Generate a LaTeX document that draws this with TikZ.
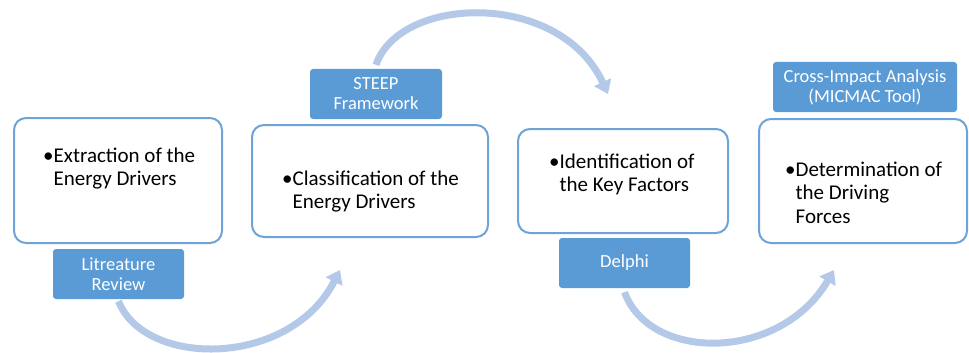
\documentclass[tikz,border=0pt]{standalone}
\usepackage{fontspec}
\setmainfont{Carlito}
\usetikzlibrary{arrows.meta}
\definecolor{lblue}{HTML}{5B9BD5}
\definecolor{bord}{HTML}{6FA3D8}
\definecolor{arc}{HTML}{B4C8E8}
\tikzset{
  stagebox/.style={draw=bord, line width=2pt, rounded corners=12pt, fill=white, inner sep=0pt},
  labelbox/.style={fill=lblue, rounded corners=3pt, text=white, inner sep=0pt, align=center,
     minimum height=50pt, font=\fontsize{18.5}{20}\selectfont},
  stagetext/.style={anchor=base west, inner sep=0pt, font=\fontsize{21}{23.5}\selectfont},
  flow/.style={draw=arc, line width=7pt, -{Triangle[width=18pt,length=13pt]}}
}
\newcommand{\stg}[2]{\begin{tabular}[t]{@{}l@{}l@{}}\textbullet&#1\\#2\end{tabular}}
\begin{document}
\begin{tikzpicture}[x=1pt,y=-1pt]
\useasboundingbox (0,0) rectangle (969,353);
% stage boxes
\node[stagebox, minimum width=208pt, minimum height=125pt] (b1) at (118,180.5) {};
\node[stagebox, minimum width=236pt, minimum height=112pt] (b2) at (370,181) {};
\node[stagebox, minimum width=210pt, minimum height=104pt] (b3) at (623,181) {};
\node[stagebox, minimum width=208pt, minimum height=124pt] (b4) at (863,181) {};
% stage texts
\node[stagetext] (t1) at (43,162) {\stg{Extraction of the}{&Energy Drivers}};
\node[stagetext] (t2) at (282,185) {\stg{Classification of the}{&Energy Drivers}};
\node[stagetext] (t3) at (549,168) {\stg{Identification of}{&the Key Factors}};
\node[stagetext] (t4) at (785,176) {\stg{Determination of}{&the Driving\\&Forces}};
% labels
\node[labelbox, minimum width=131pt] (lit) at (118.5,274) {Litreature\\Review};
\node[labelbox, minimum width=132pt] (steep) at (376,94) {STEEP\\Framework};
\node[labelbox, minimum width=131pt] (delphi) at (624.5,263) {Delphi};
\node[labelbox, minimum width=184pt] (cross) at (865,87) {Cross-Impact Analysis\\(MICMAC Tool)};
% arc end points
\coordinate (e1) at (340,270);
\coordinate (e2) at (608,94);
\coordinate (e3) at (834,270);
% flows
\draw[flow] ([yshift=-2pt]lit.south) .. controls (145,368) and (290,368) .. (e1);
\draw[flow] ([yshift=4pt]steep.north) .. controls (400,-5) and (560,-10) .. (e2);
\draw[flow] ([yshift=-4pt]delphi.south) .. controls (650,362) and (780,362) .. (e3);
\end{tikzpicture}
\end{document}
